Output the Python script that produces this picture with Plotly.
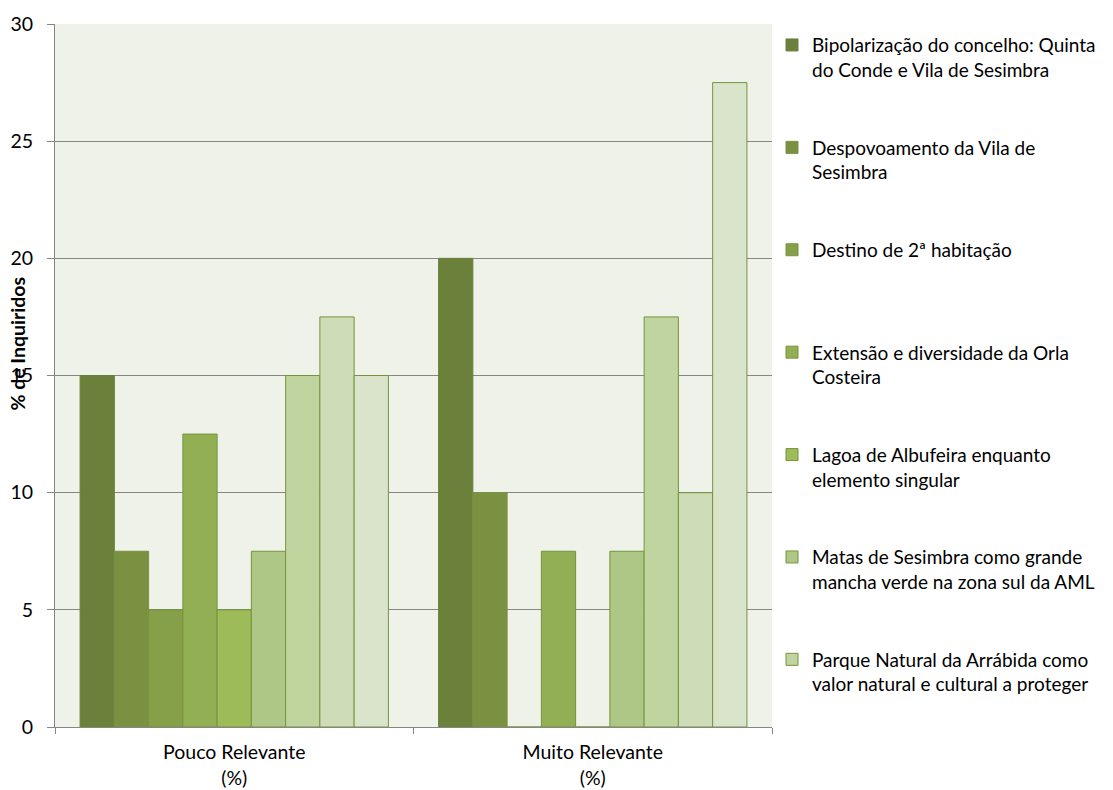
import plotly.graph_objects as go

categories = ["Pouco Relevante<br>(%)", "Muito Relevante<br>(%)"]
series_names = [
    "Bipolarização do concelho: Quinta<br>do Conde e Vila de Sesimbra",
    "Despovoamento da Vila de<br>Sesimbra",
    "Destino de 2ª habitação<br> ",
    "Extensão e diversidade da Orla<br>Costeira",
    "Lagoa de Albufeira enquanto<br>elemento singular",
    "Matas de Sesimbra como grande<br>mancha verde na zona sul da AML",
    "Parque Natural da Arrábida como<br>valor natural e cultural a proteger",
    "Série 8",
    "Série 9",
]
values = [
    [15, 20],
    [7.5, 10],
    [5, 0],
    [12.5, 7.5],
    [5, 0],
    [7.5, 7.5],
    [15, 17.5],
    [17.5, 10],
    [15, 27.5],
]
colors = ["#6B813B", "#7A9142", "#86A04A", "#93AF54", "#9DBB58",
          "#AEC787", "#C0D4A0", "#CEDCB8", "#DAE4CA"]
y_ticks = [0, 5, 10, 15, 20, 25, 30]

FONT = "Lato"
FS = 19.5
LFS = 19
fig = go.Figure()
for i, (name, vals, col) in enumerate(zip(series_names, values, colors)):
    fig.add_trace(go.Bar(
        x=categories, y=vals, name=name,
        marker=dict(color=col, line=dict(color=col if i < 2 else "#77933C", width=1)),
        showlegend=i < 7,
        legendgroup=f"g{i}",
    ))

fig.update_layout(
    width=1113, height=790,
    margin=dict(l=55, r=341, t=24, b=63),
    paper_bgcolor="white",
    plot_bgcolor="#EFF2E8",
    barmode="group",
    bargap=0.14,
    bargroupgap=0,
    font=dict(family=FONT, size=FS, color="black"),
    legend=dict(
        x=1.0, xanchor="left", y=0.997, yanchor="top",
        valign="top",
        traceorder="grouped",
        tracegroupgap=50,
        font=dict(family=FONT, size=LFS, color="black"),
        itemclick=False,
    ),
    xaxis=dict(
        type="category",
        automargin=False,
        showline=True, linecolor="#868686", linewidth=1,
        ticks="outside", tickson="boundaries", ticklen=6, tickcolor="#868686",
        ticklabelstandoff=8,
        showgrid=False,
        tickfont=dict(family=FONT, size=FS),
    ),
    yaxis=dict(
        range=[0, 30], tickvals=y_ticks,
        automargin=False,
        showline=True, linecolor="#868686", linewidth=1,
        ticks="outside", ticklen=7, tickcolor="#868686",
        ticklabelstandoff=10,
        showgrid=True, gridcolor="#868686", gridwidth=1,
        zeroline=False,
        tickfont=dict(family=FONT, size=FS),
    ),
    annotations=[dict(
        text="<b>% de Inquiridos</b>", textangle=-90,
        xref="paper", yref="paper", x=-0.052, y=0.545,
        xanchor="center", yanchor="middle", showarrow=False,
        font=dict(family=FONT, size=FS, color="black"),
    )],
)

fig.write_html("out.html")
